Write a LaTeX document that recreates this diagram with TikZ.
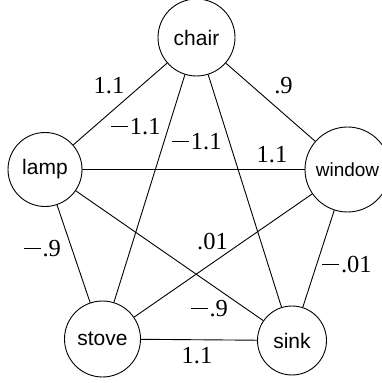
\documentclass[tikz,border=0pt]{standalone}
\usepackage{fontspec}
\setmainfont{Liberation Serif}
\newfontfamily\nodefont{Liberation Sans}
\newcommand\mn{\rule[0.31em]{0.68em}{1pt}\kern0.08em}
\begin{document}
\begin{tikzpicture}[x=1pt,y=1pt,
  vtx/.style={draw,circle,inner sep=0pt,line width=0.9pt,font=\nodefont\fontsize{21}{25}\selectfont},
  wt/.style={inner sep=0pt,anchor=center,font=\fontsize{24.5}{29}\selectfont},
  edge/.style={line width=0.9pt}]
\useasboundingbox (0,0) rectangle (382,383);
\node[vtx,minimum size=77pt] (chair) at (196.5,345.5) {chair};
\node[vtx,minimum size=74pt] (lamp) at (45,213.5) {lamp};
\node[vtx,minimum size=85pt,font=\nodefont\fontsize{19}{23}\selectfont] (window) at (347.5,213.5) {window};
\node[vtx,minimum size=76pt] (stove) at (102.5,44) {stove};
\node[vtx,minimum size=69pt] (sink) at (292,42.5) {sink};
\draw[edge] (chair) -- (lamp);
\draw[edge] (chair) -- (window);
\draw[edge] (chair) -- (stove);
\draw[edge] (chair) -- (sink);
\draw[edge] (lamp) -- (window);
\draw[edge] (lamp) -- (stove);
\draw[edge] (lamp) -- (sink);
\draw[edge] (window) -- (stove);
\draw[edge] (window) -- (sink);
\draw[edge] (stove) -- (sink);
\node[wt] (w1) at (109,297.5) {1.1};
\node[wt] (w2) at (283.5,297.5) {.9};
\node[wt] (w3) at (136,256.5) {\mn1.1};
\node[wt] (w4) at (197,241) {\mn1.1};
\node[wt] (w5) at (272,228) {1.1};
\node[wt] (w6) at (42.5,134) {\mn.9};
\node[wt] (w7) at (212.5,141.5) {.01};
\node[wt] (w8) at (347,118.5) {\mn.01};
\node[wt] (w9) at (209.5,74.5) {\mn.9};
\node[wt] (w10) at (197,27.5) {1.1};
\end{tikzpicture}
\end{document}
